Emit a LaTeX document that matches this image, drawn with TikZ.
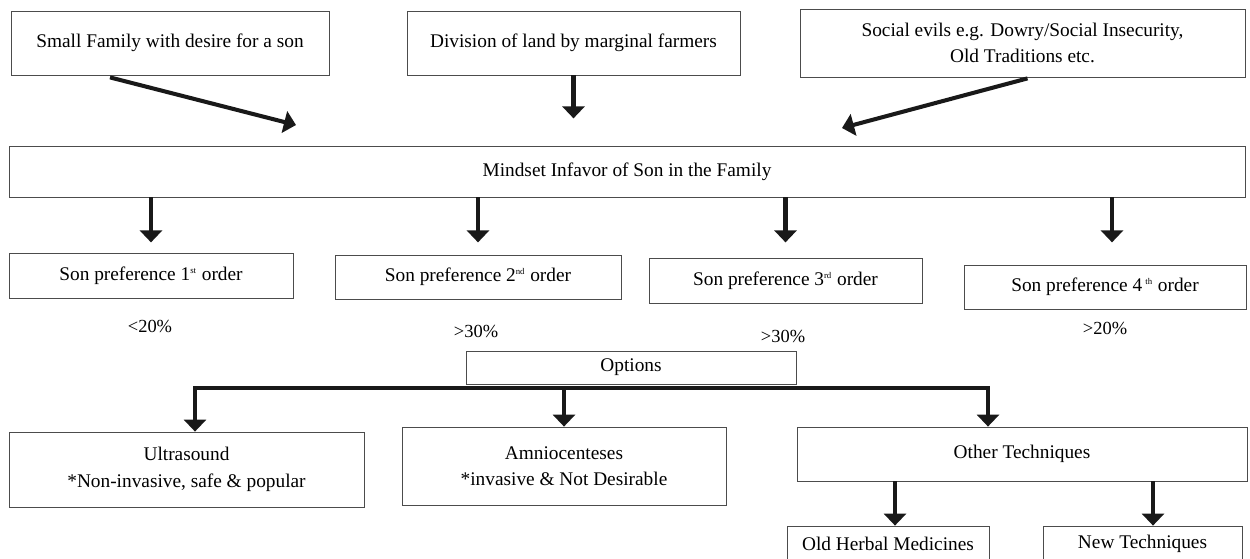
\documentclass[tikz,border=0pt]{standalone}
\usepackage{fontspec}
\setmainfont{Liberation Serif}
\usetikzlibrary{arrows.meta,calc}

\newcommand\ordmark[1]{\textsuperscript{\fontsize{5}{5}\selectfont #1}}

\begin{document}
\begin{tikzpicture}[
    x=0.02cm, y=-0.02cm,
    >={Triangle[length=0.24cm, width=0.44cm]},
    font=\fontsize{11}{15}\selectfont,
    box/.style={draw=black!70, line width=0.45pt, align=center, inner sep=2pt},
    sz/.style 2 args={minimum width=#1*0.02cm, minimum height=#2*0.02cm},
    pct/.style={font=\fontsize{10.5}{12}\selectfont, inner sep=1pt},
    e/.style={->, line width=2.3pt, draw=black!90},
    bar/.style={line width=2.3pt, draw=black!90, line cap=rect},
  ]
    \useasboundingbox (0,0) rectangle (1250,558);
    % --- causes -----------------------------------------------------------
    \node[box, sz={318}{64}]  (sfam)  at (170,43)    {Small Family with desire for a son};
    \node[box, sz={333}{64}]  (land)  at (573.5,43)  {Division of land by marginal farmers};
    \node[box, sz={445}{68}]  (evils) at (1022.5,43) {Social evils e.g. Dowry/Social Insecurity,\\ Old Traditions etc.};
    \coordinate (tipa) at (296,125);
    \coordinate (tipc) at (842,128);
    % --- mindset ----------------------------------------------------------
    \node[box, sz={1236}{51}] (mind)  at (627,171.5) {Mindset Infavor of Son in the Family};
    % --- son preference ---------------------------------------------------
    \node[box, sz={284}{45}]  (sp1)   at (151,275.5) {Son preference 1\ordmark{st} order};
    \node[box, sz={286}{44}]  (sp2)   at (478,277)   {Son preference 2\ordmark{nd} order};
    \node[box, sz={273}{45}]  (sp3)   at (785.5,280.5) {Son preference 3\ordmark{rd} order};
    \node[box, sz={282}{44}]  (sp4)   at (1105,287)  {Son preference 4\,\ordmark{th} order};
    \node[pct] (p1) at (150,326)  {<20\%};
    \node[pct] (p2) at (476,331)  {>30\%};
    \node[pct] (p3) at (783,336)  {>30\%};
    \node[pct] (p4) at (1105,328) {>20\%};
    % --- options ----------------------------------------------------------
    \node[box, sz={330}{33}]  (opt)   at (631,367.5) {Options};
    \coordinate (busl) at (195,388);
    \coordinate (busr) at (988,388);
    \node[box, sz={355}{75}]  (ultra) at (186.5,469.5) {Ultrasound\\ *Non-invasive, safe \& popular};
    \node[box, sz={324}{78}]  (amnio) at (564,466)   {Amniocenteses\\ *invasive \& Not Desirable};
    \node[box, sz={450}{54}]  (other) at (1022,454)  {Other Techniques};
    \node[box, sz={202}{36}]  (herb)  at (888,544)   {Old Herbal Medicines};
    \node[box, sz={199}{36}]  (newt)  at (1142.5,544) {New Techniques};
    % --- edges ------------------------------------------------------------
    \draw[e] ($(sfam.south)+(-60,2)$) -- (tipa);
    \draw[e] (land.south) -- ++(0,43);
    \draw[e] ($(evils.south)+(5,1)$) -- (tipc);
    \draw[e] (mind.south -| sp1) -- ++(0,45);
    \draw[e] (mind.south -| sp2) -- ++(0,45);
    \draw[e] (mind.south -| sp3) -- ++(0,45);
    \draw[e] ($(mind.south -| sp4)+(7,0)$) -- ++(0,45);
    \draw[bar] (busl) -- (busr);
    \draw[e] (busl) -- (busl |- ultra.north);
    \draw[e] (busl -| amnio) -- (amnio);
    \draw[e] (busr) -- (busr |- other.north);
    \draw[e] ($(other.south)+(-127,0)$) -- (herb.north -| 895,0);
    \draw[e] ($(other.south)+(131,0)$) -- (newt.north -| 1153,0);
  \end{tikzpicture}
\end{document}
